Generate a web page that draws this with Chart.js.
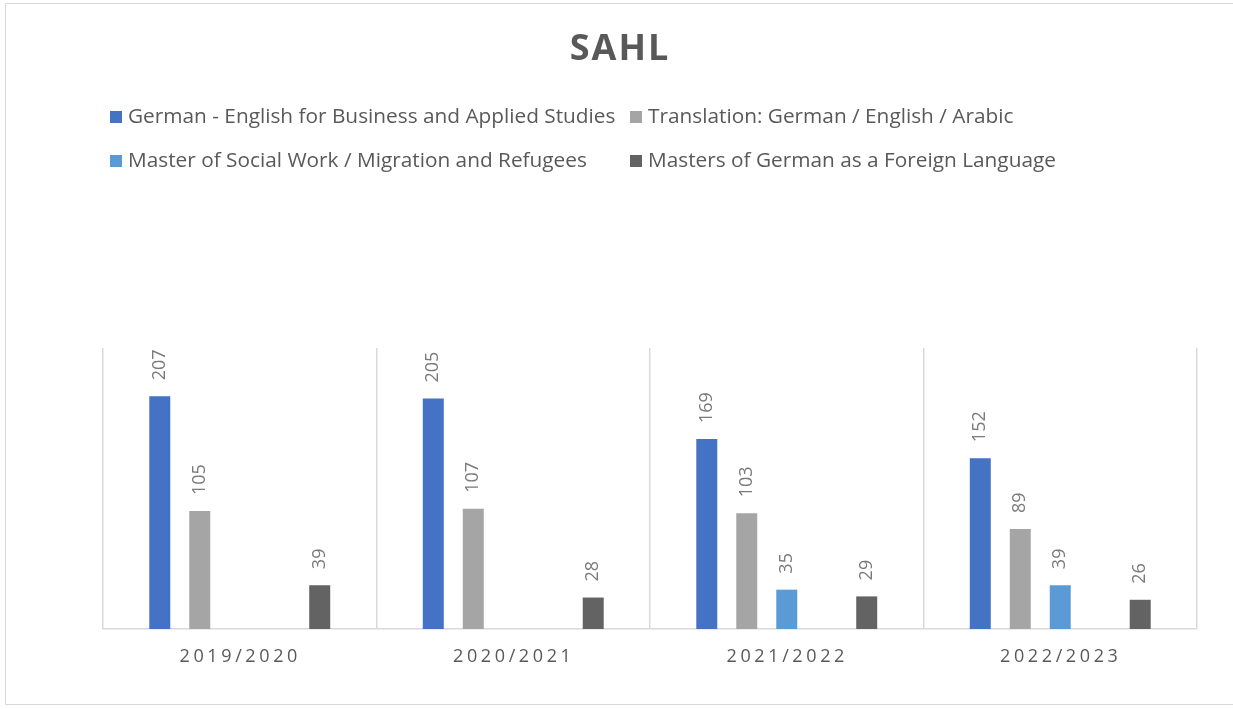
<!DOCTYPE html>
<html><head><meta charset="utf-8">
<script src="https://cdn.jsdelivr.net/npm/chart.js@4.4.0/dist/chart.umd.min.js"></script>
<style>
html,body{margin:0;padding:0;background:#fff;overflow:hidden}
#wrap{position:absolute;left:0;top:0;width:1233px;height:709px}
#frame{position:absolute;left:5px;top:3px;width:1240px;height:702px;border:1.5px solid #d9d9d9;box-sizing:border-box}
canvas{position:absolute;left:0;top:0}
</style></head><body>
<div id="wrap"><div id="frame"></div><canvas id="c" width="1233" height="709"></canvas></div>
<script>
const titleText = 'SAHL';
const categories = ['2019/2020', '2020/2021', '2021/2022', '2022/2023'];
const seriesNames = [
  'German - English for Business and Applied Studies',
  'Translation: German / English / Arabic',
  'Master of Social Work / Migration and Refugees',
  '',
  'Masters of German as a Foreign Language'
];
const seriesColors = ['#4472C4', '#A5A5A5', '#5B9BD5', '#FFC000', '#636363'];
const germanEnglish = [207, 205, 169, 152];
const translation = [105, 107, 103, 89];
const socialWork = [null, null, 35, 39];
const emptySlot = [null, null, null, null];
const germanForeign = [39, 28, 29, 26];
const seriesValues = [germanEnglish, translation, socialWork, emptySlot, germanForeign];
const yMax = 250;

const legendCols = [110, 630];
const legendRows = [117, 161];

const decorPlugin = {
  id: 'decor',
  afterDraw(chart) {
    const ctx = chart.ctx;
    // title
    ctx.save();
    ctx.fillStyle = '#595959';
    ctx.font = 'bold 36px "Open Sans"';
    ctx.letterSpacing = '2px';
    ctx.textAlign = 'center';
    ctx.textBaseline = 'middle';
    ctx.fillText(titleText, 620, 50);
    ctx.restore();

    // legend
    ctx.save();
    ctx.font = '20.8px "Open Sans"';
    ctx.textAlign = 'left';
    ctx.textBaseline = 'middle';
    let k = 0;
    chart.data.datasets.forEach((ds) => {
      if (!ds.label) return;
      const x = legendCols[k % 2];
      const y = legendRows[Math.floor(k / 2)];
      ctx.fillStyle = ds.backgroundColor;
      ctx.fillRect(x, y - 6, 12, 12);
      ctx.fillStyle = '#595959';
      ctx.fillText(ds.label, x + 18, y);
      k++;
    });
    ctx.restore();

    // category labels
    const xs = chart.scales.x;
    ctx.save();
    ctx.font = '18px "Open Sans"';
    ctx.letterSpacing = '3.6px';
    ctx.fillStyle = '#595959';
    ctx.textAlign = 'center';
    ctx.textBaseline = 'middle';
    categories.forEach((c, i) => {
      ctx.fillText(c, xs.getPixelForValue(i) + 0.5, 657);
    });
    ctx.restore();

    // data labels
    ctx.save();
    ctx.font = '18px "Open Sans"';
    ctx.fillStyle = '#7a7a7a';
    ctx.textAlign = 'left';
    ctx.textBaseline = 'middle';
    chart.data.datasets.forEach((ds, di) => {
      const meta = chart.getDatasetMeta(di);
      meta.data.forEach((bar, i) => {
        const v = ds.data[i];
        if (v === null || v === undefined) return;
        ctx.save();
        ctx.translate(bar.x, bar.y - 16);
        ctx.rotate(-Math.PI / 2);
        ctx.fillText(String(v), 0, 0);
        ctx.restore();
      });
    });
    ctx.restore();
  }
};

new Chart(document.getElementById('c'), {
  type: 'bar',
  data: {
    labels: categories,
    datasets: seriesValues.map((vals, i) => ({
      label: seriesNames[i],
      data: vals,
      backgroundColor: seriesColors[i],
      borderWidth: 0,
      categoryPercentage: 0.731,
      barPercentage: 0.525
    }))
  },
  options: {
    responsive: false,
    animation: false,
    devicePixelRatio: 1,
    layout: { padding: { left: 103, right: 36, top: 348, bottom: 80 } },
    plugins: {
      legend: { display: false },
      title: { display: false },
      tooltip: { enabled: false }
    },
    scales: {
      x: {
        offset: true,
        grid: { display: true, offset: true, color: '#d9d9d9', lineWidth: 1.5, drawTicks: false },
        border: { display: true, color: '#d9d9d9', width: 1.5 },
        ticks: { display: false }
      },
      y: {
        display: false,
        min: 0,
        max: yMax
      }
    }
  },
  plugins: [decorPlugin]
});
</script>
</body></html>
